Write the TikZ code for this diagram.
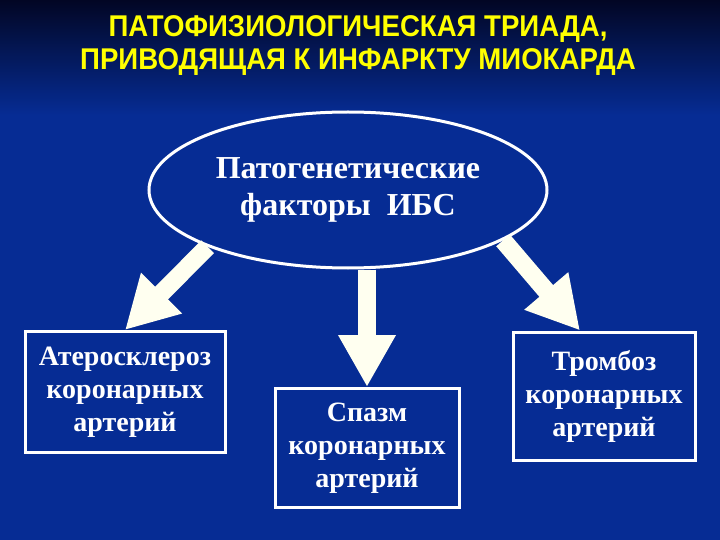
\documentclass[tikz,border=0pt]{standalone}
\usepackage{fontspec}
\setmainfont{Liberation Serif}
\newfontfamily\headfont[FakeStretch=0.92]{Liberation Sans}
\usetikzlibrary{positioning,arrows.meta,shapes.geometric}

\definecolor{slideblue}{RGB}{6,44,148}
\definecolor{slidetop}{RGB}{2,6,36}
\definecolor{headyellow}{RGB}{255,255,0}
\definecolor{arrowwhite}{RGB}{255,255,240}

\begin{document}
\begin{tikzpicture}[
x=1pt,y=-1pt,
every node/.style={
text=white,
align=center,
font=\bfseries\fontsize{28}{33}\selectfont
},
factor/.style={
draw=white,
line width=3pt,
fill=slideblue,
inner sep=3pt
},
bigarrow/.style={
draw=arrowwhite,
line width=18pt,
-{Triangle[length=52pt,width=54pt]}
}
]

% slide background
\useasboundingbox (0,0) rectangle (720,540);
\fill[slideblue] (0,0) rectangle (720,540);
\shade[top color=slidetop,bottom color=slideblue] (0,0) rectangle (720,115);

\node (title) at (358,46)
[text=headyellow,font=\headfont\bfseries\fontsize{30}{33}\selectfont]
{ПАТОФИЗИОЛОГИЧЕСКАЯ ТРИАДА,\\ПРИВОДЯЩАЯ К ИНФАРКТУ МИОКАРДА};

\node (ibs) at (348,190) [factor,ellipse,minimum width=398pt,minimum height=156pt,
font=\bfseries\fontsize{32}{37}\selectfont]
{Патогенетические\\факторы~ ИБС};

\node (athero) at (125,392) [factor,minimum width=200pt,minimum height=121pt]
{Атеросклероз\\коронарных\\артерий};

\node (spasm) at (367,448) [factor,minimum width=184pt,minimum height=119pt]
{Спазм\\коронарных\\артерий};

\node (thromb) at (604,396) [factor,minimum width=182pt,minimum height=128pt]
{Тромбоз\\коронарных\\артерий};

\draw[bigarrow] (ibs.202) -- (athero.north);
\draw[bigarrow] (ibs.south -| spasm.north) -- (spasm.north);
\draw[bigarrow] (ibs.342) -- ([xshift=-24pt]thromb.north);

\end{tikzpicture}
\end{document}
